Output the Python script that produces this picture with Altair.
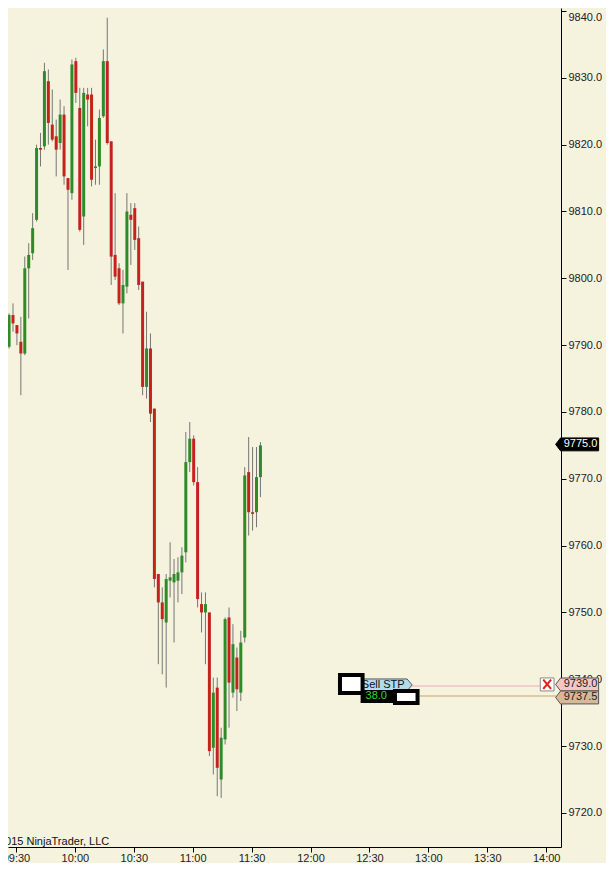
import altair as alt
import pandas as pd

# 2-minute candles (first ones sit under the left edge)
bar_open = [9787.25, 9789.75, 9794.5, 9793.0, 9790.5, 9788.75, 9801.5, 9803.75, 9808.75, 9819.5,
            9819.75, 9829.5, 9823.0, 9821.25, 9820.25, 9824.5, 9815.0, 9812.75, 9832.5, 9825.5,
            9809.25, 9827.5, 9827.5, 9816.5, 9816.75, 9824.25, 9832.5, 9820.5, 9803.5, 9801.5,
            9796.25, 9798.75, 9809.5, 9810.5, 9806.0, 9799.5, 9783.75, 9789.5, 9780.5, 9755.75,
            9751.5, 9748.5, 9754.75, 9754.5, 9754.75, 9756.0, 9759.0, 9772.5, 9776.0, 9769.5,
            9751.25, 9750.0, 9750.0, 9729.75, 9738.75, 9725.0, 9731.0, 9749.25, 9738.0, 9743.25,
            9738.0, 9746.25, 9771.0, 9765.0, 9765.0, 9770.25]
bar_high = [9790.75, 9794.75, 9796.25, 9793.0, 9794.25, 9803.25, 9805.25, 9809.75, 9820.0, 9821.75,
            9832.25, 9831.25, 9828.25, 9823.75, 9826.75, 9825.75, 9815.0, 9832.75, 9833.0, 9828.5,
            9828.5, 9828.5, 9828.5, 9820.75, 9825.25, 9834.25, 9839.0, 9820.5, 9812.75, 9802.25,
            9801.25, 9812.75, 9811.25, 9811.25, 9807.75, 9799.5, 9795.0, 9791.75, 9780.5, 9755.75,
            9753.75, 9755.75, 9760.5, 9758.0, 9758.25, 9759.75, 9777.0, 9778.5, 9776.5, 9771.75,
            9753.0, 9753.0, 9750.0, 9740.25, 9740.25, 9732.75, 9749.25, 9750.75, 9748.25, 9744.75,
            9747.25, 9771.75, 9776.25, 9774.75, 9774.75, 9775.5]
bar_low = [9787.0, 9789.5, 9792.0, 9790.0, 9782.5, 9788.5, 9794.0, 9802.75, 9808.5, 9816.75,
           9819.25, 9820.0, 9820.5, 9815.25, 9819.25, 9814.0, 9801.25, 9811.75, 9826.25, 9807.0,
           9805.0, 9822.75, 9813.75, 9814.0, 9814.0, 9824.0, 9820.0, 9799.0, 9799.75, 9796.0,
           9791.75, 9797.75, 9802.0, 9804.25, 9798.25, 9782.5, 9782.0, 9778.5, 9753.75, 9742.25,
           9740.75, 9738.75, 9752.25, 9745.5, 9751.5, 9752.75, 9757.5, 9771.0, 9769.0, 9750.75,
           9747.0, 9742.25, 9728.5, 9725.75, 9722.5, 9722.25, 9730.25, 9732.75, 9737.25, 9735.25,
           9736.75, 9745.5, 9761.5, 9762.25, 9762.75, 9767.25]
bar_close = [9789.5, 9794.5, 9793.25, 9791.75, 9788.75, 9801.5, 9803.5, 9807.5, 9819.5, 9819.25,
             9831.0, 9823.25, 9820.75, 9819.25, 9824.5, 9815.25, 9813.25, 9832.0, 9827.75, 9807.25,
             9827.75, 9826.75, 9814.75, 9816.75, 9824.0, 9832.5, 9820.25, 9803.25, 9800.25, 9796.25,
             9799.0, 9810.0, 9808.75, 9805.75, 9799.0, 9783.75, 9789.5, 9779.75, 9755.0, 9751.5,
             9749.0, 9755.0, 9755.25, 9755.75, 9756.0, 9758.5, 9772.5, 9776.0, 9769.5, 9752.0,
             9750.0, 9751.25, 9729.25, 9738.0, 9726.75, 9731.25, 9749.0, 9739.5, 9745.25, 9738.5,
             9745.5, 9770.5, 9765.0, 9764.75, 9770.25, 9775.0]

price_ticks = [9720, 9730, 9740, 9750, 9760, 9770, 9780, 9790, 9800, 9810, 9820, 9830, 9840]
time_ticks = [0, 30, 60, 90, 120, 150, 180, 210, 240, 270]  # minutes after 09:30
time_labels = ["09:30", "10:00", "10:30", "11:00", "11:30", "12:00", "12:30", "13:00", "13:30", "14:00"]

last_price = 9775.0
stop_price = 9739.0
entry_price = 9737.5
position_text = "38.0"
order_text = "Sell STP"
copyright_text = "©2015 NinjaTrader, LLC"

BG = "#F5F3DE"
UP = "#2F8A2A"
DOWN = "#C4221C"
FONT = "Liberation Sans"

# bar k is drawn 2 minutes after bar k-1
bars = pd.DataFrame({
    "t": [-5.5 + 2 * k for k in range(len(bar_open))],
    "open": bar_open, "high": bar_high, "low": bar_low, "close": bar_close,
})
bars["dir"] = ["up" if c >= o else "down" for o, c in zip(bars["open"], bars["close"])]

x_scale = alt.Scale(domain=[-1.5, 275], nice=False, zero=False)
y_scale = alt.Scale(domain=[9714.9, 9840.45], nice=False, zero=False)
label_js = "[" + ",".join(f"'{s}'" for s in time_labels) + "]"
x_axis = alt.Axis(values=time_ticks, labelExpr=f"{label_js}[indexof({time_ticks}, datum.value)]",
                  title=None, grid=False, tickSize=5, labelPadding=0, domainColor="black",
                  tickColor="black", labelColor="#222", labelFont=FONT, labelFontSize=11)
y_axis = alt.Axis(orient="right", values=price_ticks, format=".1f", title=None, grid=False,
                  tickSize=5, labelPadding=2, labelFlush=4, domainColor="black", tickColor="black",
                  labelColor="#222", labelFont=FONT, labelFontSize=11)


def xq(field):
    return alt.X(f"{field}:Q", scale=x_scale, axis=x_axis)


def yq(field):
    return alt.Y(f"{field}:Q", scale=y_scale, axis=y_axis)


wicks = alt.Chart(bars).mark_rule(color="#767676", strokeWidth=1, clip=True).encode(
    x=xq("t"), y=yq("low"), y2="high")
bodies = alt.Chart(bars).mark_bar(size=3, clip=True).encode(
    x=xq("t"), y=yq("open"), y2="close",
    color=alt.Color("dir:N", scale=alt.Scale(domain=["up", "down"], range=[UP, DOWN]), legend=None))

# order / position lines
lines = pd.DataFrame({"t": [201.5, 205.5], "t2": [267, 275], "p": [stop_price, entry_price],
                      "c": ["#EFC3C3", "#D6BE90"]})
order_lines = alt.Chart(lines).mark_rule(strokeWidth=1.5).encode(
    x=xq("t"), x2="t2", y=yq("p"), color=alt.Color("c:N", scale=None))

TAG_LEFT = "M-1,0L-0.77,-0.3L1,-0.3L1,0.3L-0.77,0.3Z"
TAG_RIGHT = "M1,0L0.8,-0.235L-1,-0.235L-1,0.235L0.8,0.235Z"

sell_tag = alt.Chart(pd.DataFrame({"t": [188.75], "p": [stop_price]})).mark_point(
    shape=TAG_RIGHT, size=2601, filled=True, fill="#B3DAEE", stroke="#555", strokeWidth=1,
    opacity=1, yOffset=-1).encode(x=xq("t"), y=yq("p"))
sell_text = alt.Chart(pd.DataFrame({"t": [187.0], "p": [stop_price], "s": [order_text]})).mark_text(
    font=FONT, fontSize=11, color="#111", yOffset=-1).encode(x=xq("t"), y=yq("p"), text="s:N")

pos_box = alt.Chart(pd.DataFrame({"t": [175.5], "t2": [193.5], "p": [9738.4], "p2": [9736.45]})).mark_rect(
    color="black").encode(x=xq("t"), x2="t2", y=yq("p"), y2="p2")
pos_text = alt.Chart(pd.DataFrame({"t": [178.0], "p": [entry_price], "s": [position_text]})).mark_text(
    font=FONT, fontSize=11, color="#33D633", align="left").encode(x=xq("t"), y=yq("p"), text="s:N")

handles = pd.DataFrame({"t": [165, 193], "t2": [176.5, 204.5], "p": [9740.65, 9738.25],
                        "p2": [9737.95, 9736.45]})
handle_boxes = alt.Chart(handles).mark_rect(fill="white", stroke="black", strokeWidth=4).encode(
    x=xq("t"), x2="t2", y=yq("p"), y2="p2")

close_box = alt.Chart(pd.DataFrame({"t": [267], "t2": [274], "p": [9740.2], "p2": [9738.25]})).mark_rect(
    fill="white", stroke="#8a8a8a", strokeWidth=1).encode(x=xq("t"), x2="t2", y=yq("p"), y2="p2")
cross = pd.DataFrame({"t": [268.5, 268.5], "t2": [272.5, 272.5], "p": [9739.95, 9738.55],
                      "p2": [9738.55, 9739.95]})
close_cross = alt.Chart(cross).mark_rule(color="#E0201A", strokeWidth=2).encode(
    x=xq("t"), x2="t2", y=yq("p"), y2="p2")

tags = pd.DataFrame({
    "p": [last_price, stop_price, entry_price],
    "fill": ["black", "#F4C6C6", "#D9B898"],
    "stroke": ["black", "#555", "#555"],
    "ink": ["white", "#222", "#222"],
    "dy": [-1, -1.5, 1.5],
})
tags["t"] = 285.75
tags["tt"] = 287.5
tags["label"] = [f"{v:.1f}" for v in tags["p"]]
axis_tags = alt.layer(*[
    alt.Chart(tags.iloc[[i]]).mark_point(
        shape=TAG_LEFT, size=1849, filled=True, fill=row["fill"], stroke=row["stroke"],
        strokeWidth=1, opacity=1, yOffset=row["dy"]).encode(x=xq("t"), y=yq("p"))
    + alt.Chart(tags.iloc[[i]]).mark_text(
        font=FONT, fontSize=11, color=row["ink"], yOffset=row["dy"]).encode(
        x=xq("tt"), y=yq("p"), text="label:N")
    for i, row in tags.iterrows()
])

watermark = alt.Chart(pd.DataFrame({"t": [47.5], "p": [9715.2], "s": [copyright_text]})).mark_text(
    font=FONT, fontSize=11, color="#111", align="right", baseline="alphabetic").encode(
    x=xq("t"), y=yq("p"), text="s:N")

# page is 614x876 with an 8px body margin: keep the svg at 598x855 so nothing overflows
chart = alt.layer(
    wicks, bodies, watermark, order_lines, sell_tag, sell_text, pos_box, pos_text,
    handle_boxes, close_box, close_cross, axis_tags,
).properties(
    width=553, height=839,
    padding={"left": 0, "top": 0, "right": 45, "bottom": 16},
    autosize=alt.AutoSizeParams(type="none"),
    background=BG,
).configure_view(stroke="transparent", fill=BG)

chart.save("out.html", embed_options={"renderer": "svg", "actions": False})
